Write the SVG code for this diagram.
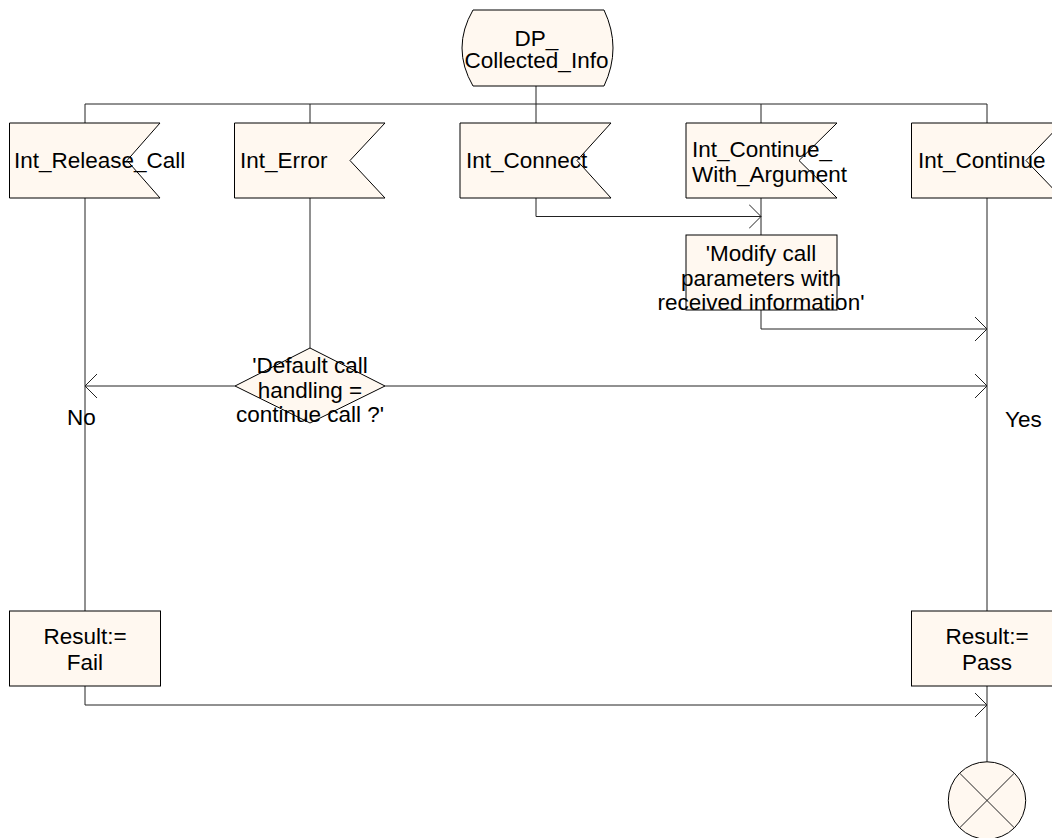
<svg xmlns="http://www.w3.org/2000/svg" width="1052" height="838" viewBox="0 0 1052 838">
<style>
.shape{fill:#FFF8F0;stroke:#000;stroke-width:1}
.line{fill:none;stroke:#222;stroke-width:1}
.txt{font-family:"Liberation Sans",Arial,sans-serif;font-size:22.5px;fill:#000}
.c{text-anchor:middle}
</style>
<defs>
<marker id="arr" markerWidth="14" markerHeight="26" refX="12" refY="13" orient="auto" markerUnits="userSpaceOnUse">
<path d="M0,1 L12,13 L0,25" fill="none" stroke="#222" stroke-width="1"/>
</marker>
</defs>
<rect width="1052" height="838" fill="#fff"/>
<g id="connectors">
<path class="line" d="M536,86 V104"/>
<path class="line" d="M85,123 V104 H987 V123"/>
<path class="line" d="M310,104 V123"/>
<path class="line" d="M536,104 V123"/>
<path class="line" d="M761,104 V123"/>
<path class="line" d="M85,198 V611"/>
<path class="line" d="M310,198 V348"/>
<path class="line" d="M536,198 V216.5 H761" marker-end="url(#arr)"/>
<path class="line" d="M761,198 V235"/>
<path class="line" d="M761,310 V329 H987" marker-end="url(#arr)"/>
<path class="line" d="M987,198 V611"/>
<path class="line" d="M235,386 H85" marker-end="url(#arr)"/>
<path class="line" d="M385,386 H987" marker-end="url(#arr)"/>
<path class="line" d="M85,686 V705 H987" marker-end="url(#arr)"/>
<path class="line" d="M987,686 V762"/>
</g>
<g id="start">
<path class="shape" d="M473,10 H604 Q622,48 604,86 H473 Q451,48 473,10 Z"/>
<text class="txt c" x="536.5" y="45.5">DP_</text>
<text class="txt c" x="536.5" y="68">Collected_Info</text>
</g>
<g id="int_release_call">
<path class="shape" d="M9.5,123 H160 L127,160.5 L160,198 H9.5 Z"/>
<text class="txt" x="14" y="168">Int_Release_Call</text>
</g>
<g id="int_error">
<path class="shape" d="M234.5,123 H385 L350,160.5 L385,198 H234.5 Z"/>
<text class="txt" x="240" y="168">Int_Error</text>
</g>
<g id="int_connect">
<path class="shape" d="M460,123 H611 L577,160.5 L611,198 H460 Z"/>
<text class="txt" x="466" y="168">Int_Connect</text>
</g>
<g id="int_continue_with_argument">
<path class="shape" d="M686,123 H837 L799,160.5 L837,198 H686 Z"/>
<text class="txt" x="692" y="157">Int_Continue_</text>
<text class="txt" x="692" y="182">With_Argument</text>
</g>
<g id="int_continue">
<path class="shape" d="M911.5,123 H1062 L1026,160.5 L1062,198 H911.5 Z"/>
<text class="txt" x="918" y="168">Int_Continue</text>
</g>
<g id="modify_task">
<rect class="shape" x="686" y="235" width="151" height="75"/>
<text class="txt c" x="761" y="261">'Modify call</text>
<text class="txt c" x="761" y="285.5">parameters with</text>
<text class="txt c" x="761" y="309.5">received information'</text>
</g>
<g id="decision">
<path class="shape" d="M235,386 L310,348 L385,386 L310,423 Z"/>
<text class="txt c" x="310" y="373">'Default call</text>
<text class="txt c" x="310" y="398">handling =</text>
<text class="txt c" x="310" y="422">continue call ?'</text>
</g>
<g id="labels">
<text class="txt" x="67" y="425">No</text>
<text class="txt" x="1005" y="427">Yes</text>
</g>
<g id="result_fail">
<rect class="shape" x="9.5" y="611" width="151" height="75"/>
<text class="txt c" x="85" y="644">Result:=</text>
<text class="txt c" x="85" y="670">Fail</text>
</g>
<g id="result_pass">
<rect class="shape" x="911.5" y="611" width="151" height="75"/>
<text class="txt c" x="987" y="644">Result:=</text>
<text class="txt c" x="987" y="670">Pass</text>
</g>
<g id="stop">
<circle class="shape" cx="987" cy="800.5" r="38.7"/>
<path class="line" stroke="#000" d="M959.6,773.1 L1014.4,827.9 M1014.4,773.1 L959.6,827.9"/>
</g>
</svg>
